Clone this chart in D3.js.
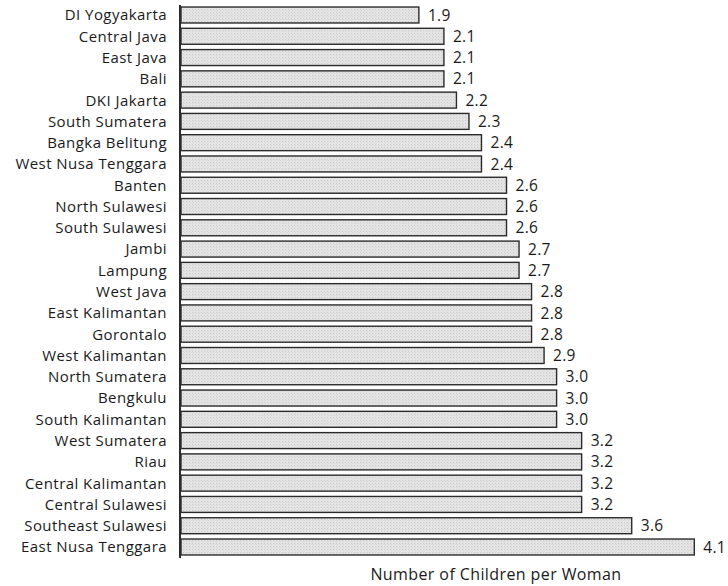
<!DOCTYPE html>
<html>
<head>
<meta charset="utf-8">
<script src="https://cdn.jsdelivr.net/npm/d3@7"></script>
<style>
  body { margin: 0; background: #fff; }
  text { font-family: "Open Sans", "Noto Sans", sans-serif; fill: #1a1a1a; }
</style>
</head>
<body>
<div id="chart"></div>
<script>
// provinces, top to bottom
const provinces = [
  'DI Yogyakarta', 'Central Java', 'East Java', 'Bali', 'DKI Jakarta',
  'South Sumatera', 'Bangka Belitung', 'West Nusa Tenggara', 'Banten',
  'North Sulawesi', 'South Sulawesi', 'Jambi', 'Lampung', 'West Java',
  'East Kalimantan', 'Gorontalo', 'West Kalimantan', 'North Sumatera',
  'Bengkulu', 'South Kalimantan', 'West Sumatera', 'Riau',
  'Central Kalimantan', 'Central Sulawesi', 'Southeast Sulawesi',
  'East Nusa Tenggara'
];
const tfr = [
  1.9, 2.1, 2.1, 2.1, 2.2, 2.3, 2.4, 2.4, 2.6, 2.6, 2.6, 2.7, 2.7,
  2.8, 2.8, 2.8, 2.9, 3.0, 3.0, 3.0, 3.2, 3.2, 3.2, 3.2, 3.6, 4.1
];
const axisTitle = 'Number of Children per Woman';

const width = 728, height = 586;
const x0 = 181;

let data = provinces.map((p, i) => ({ name: p, value: tfr[i] }));

const svg = d3.select('#chart')
  .append('svg')
  .attr('width', width)
  .attr('height', height);

// fine dotted fill like the original
const pat = svg.append('defs')
  .append('pattern')
  .attr('id', 'hatch')
  .attr('patternUnits', 'userSpaceOnUse')
  .attr('width', 3)
  .attr('height', 3);
pat.append('rect').attr('width', 3).attr('height', 3).attr('fill', '#e4e4e4');
pat.append('rect').attr('width', 1).attr('height', 1).attr('fill', '#cbcbcb');
pat.append('rect').attr('x', 1).attr('y', 1).attr('width', 1).attr('height', 1).attr('fill', '#d6d6d6');

let x = d3.scaleLinear()
  .domain([0, 4.1])
  .range([x0, x0 + 125.2 * 4.1]);

let y = d3.scaleBand()
  .domain(provinces)
  .range([1.7, 560.3])
  .paddingInner(0.25)
  .paddingOuter(0.25);

let bars = svg.selectAll('.bar')
  .data(data)
  .enter()
  .append('g')
  .attr('class', 'bar');

bars.append('rect')
  .attr('x', x(0))
  .attr('y', d => y(d.name))
  .attr('width', d => x(d.value) - x(0))
  .attr('height', y.bandwidth())
  .attr('fill', 'url(#hatch)')
  .attr('stroke', '#2b2b2b')
  .attr('stroke-width', 1.4);

// value labels at bar ends
bars.append('text')
  .attr('x', d => x(d.value) + 9)
  .attr('y', d => y(d.name) + y.bandwidth() / 2)
  .attr('dy', '0.36em')
  .style('font-size', '15.5px')
  .style('letter-spacing', '0.3px')
  .text(d => d3.format('.1f')(d.value));

// category labels
bars.append('text')
  .attr('x', 167)
  .attr('y', d => y(d.name) + y.bandwidth() / 2)
  .attr('dy', '0.36em')
  .style('text-anchor', 'end')
  .style('font-size', '15px')
  .style('letter-spacing', '0.45px')
  .text(d => d.name);

// vertical axis line
svg.append('line')
  .attr('x1', x0 - 1).attr('x2', x0 - 1)
  .attr('y1', 5).attr('y2', 558)
  .attr('stroke', '#2b2b2b')
  .attr('stroke-width', 2);

svg.append('text')
  .attr('x', 496)
  .attr('y', 580)
  .style('text-anchor', 'middle')
  .style('font-size', '16px')
  .style('letter-spacing', '0.4px')
  .text(axisTitle);
</script>
</body>
</html>
